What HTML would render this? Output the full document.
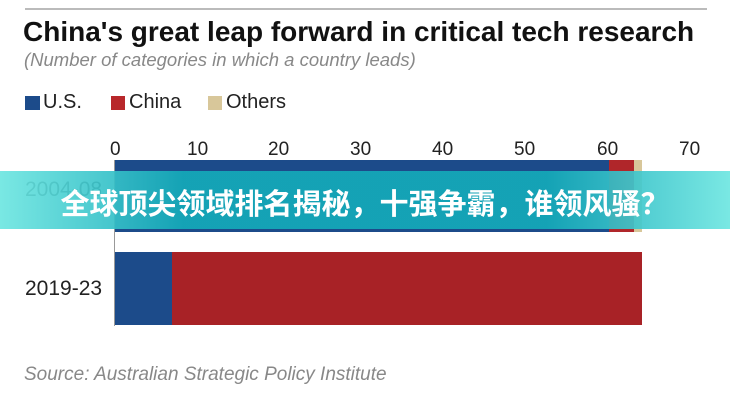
<!DOCTYPE html>
<html><head><meta charset="utf-8"><style>
body{margin:0;width:730px;height:400px;background:#fff;position:relative;overflow:hidden;font-family:"Liberation Sans",Arial,sans-serif}
.a{position:absolute;white-space:nowrap}
.t{font-size:19px;color:#222}
</style></head><body>
<div class="a" style="left:25px;top:8px;width:682px;height:2px;background:#bbb"></div>
<div class="a" style="left:23px;top:16px;font-size:28px;font-weight:bold;color:#111">China's great leap forward in critical tech research</div>
<div class="a" style="left:24px;top:49px;font-size:18.5px;font-style:italic;color:#888">(Number of categories in which a country leads)</div>
<div class="a" style="left:25px;top:96px;width:15px;height:14px;background:#1c4b8a"></div>
<div class="a" style="left:43px;top:91px;font-size:20px;color:#222">U.S.</div>
<div class="a" style="left:111px;top:96px;width:14px;height:14px;background:#b8282b"></div>
<div class="a" style="left:129px;top:91px;font-size:20px;color:#222">China</div>
<div class="a" style="left:208px;top:96px;width:14px;height:14px;background:#d8c79a"></div>
<div class="a" style="left:226px;top:91px;font-size:20px;color:#222">Others</div>
<div class="a t" style="left:110px;top:139px">0</div>
<div class="a t" style="left:187px;top:139px">10</div>
<div class="a t" style="left:268px;top:139px">20</div>
<div class="a t" style="left:350px;top:139px">30</div>
<div class="a t" style="left:432px;top:139px">40</div>
<div class="a t" style="left:514px;top:139px">50</div>
<div class="a t" style="left:597px;top:139px">60</div>
<div class="a t" style="left:679px;top:139px">70</div>
<div class="a" style="left:114px;top:160px;width:1px;height:166px;background:#999"></div>
<div class="a" style="left:115px;top:160px;width:494px;height:72px;background:#1c4b8a"></div>
<div class="a" style="left:609px;top:160px;width:25px;height:72px;background:#b0262a"></div>
<div class="a" style="left:634px;top:160px;width:8px;height:72px;background:#d8c79a"></div>
<div class="a" style="left:115px;top:252px;width:57px;height:73px;background:#1c4b8a"></div>
<div class="a" style="left:172px;top:252px;width:470px;height:73px;background:#a82226"></div>
<div class="a" style="left:25px;top:178px;font-size:21px;color:#222">2004-08</div>
<div class="a" style="left:25px;top:277px;font-size:21px;color:#222">2019-23</div>
<div class="a" style="left:0;top:171px;width:730px;height:58px;background:linear-gradient(90deg,rgba(110,230,225,.92) 0%,rgba(20,170,185,.92) 25%,rgba(20,170,185,.92) 75%,rgba(110,230,225,.92) 100%)"></div>
<div class="a" style="left:0;top:181px;width:730px;text-align:center;font-size:29px;font-weight:bold;color:#fff;font-family:'Noto Sans CJK SC',sans-serif">全球顶尖领域排名揭秘，十强争霸，谁领风骚？</div>
<div class="a" style="left:24px;top:364px;font-size:19px;font-style:italic;color:#888">Source: Australian Strategic Policy Institute</div>
</body></html>
